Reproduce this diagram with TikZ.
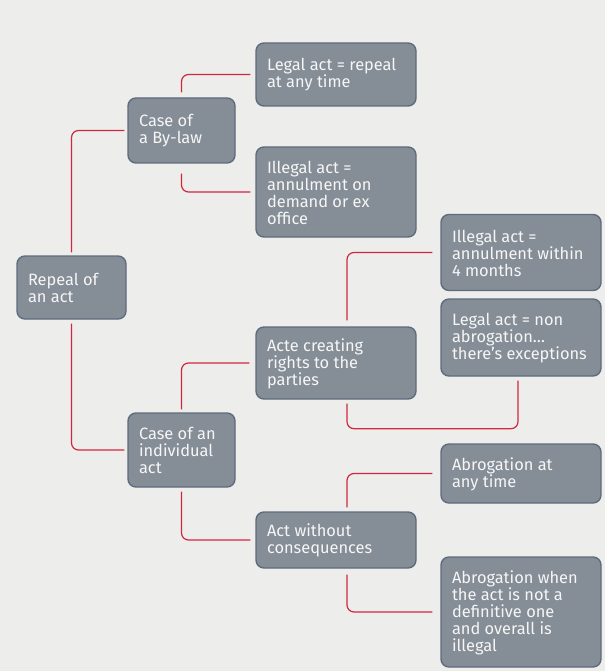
\documentclass[tikz,border=0pt]{standalone}
\usepackage{fontspec}
\setmainfont{Fira Sans}
\definecolor{bg}{RGB}{237,237,235}
\definecolor{boxfill}{RGB}{133,141,151}
\definecolor{boxedge}{RGB}{95,108,126}
\definecolor{linkred}{RGB}{208,40,64}
\definecolor{boxtext}{RGB}{246,246,246}
\tikzset{
  box/.style={draw=boxedge, fill=boxfill, line width=1.4pt, rounded corners=8pt,
    inner sep=0pt, anchor=center},
  boxlabel/.style={text=boxtext, align=left, inner sep=0pt, anchor=west,
    font=\fontsize{16.4}{17}\selectfont},
  link/.style={draw=linkred, line width=1.2pt, rounded corners=7pt},
}
\newcommand{\bx}[6]{% name, cx, cy, width, height, text
  \node[box, minimum width=#4pt, minimum height=#5pt] (#1) at (#2,#3) {};
  \node[boxlabel] (#1-t) at ([xshift=11.5pt,yshift=-0.5pt]#1.west) {#6};}
\begin{document}
\begin{tikzpicture}[x=1pt,y=-1pt]
\fill[bg] (0,0) rectangle (605,671);
\useasboundingbox (0,0) rectangle (605,671);

\bx{r}{71.5}{287.5}{109}{63}{Repeal of\\an act}
\bx{b}{181.5}{130.5}{107}{65}{Case of\\a By-law}
\bx{l1}{336}{74.5}{160}{63}{Legal act = repeal\\at any time}
\bx{il}{336}{192}{160}{90}{Illegal act =\\annulment on\\demand or ex\\office}
\bx{ind}{181.5}{450}{107}{74}{Case of an\\individual\\act}
\bx{acte}{336}{363}{160}{72}{Acte creating\\rights to the\\parties}
\bx{i4}{521}{252.5}{160}{76}{Illegal act =\\annulment within\\4 months}
\bx{ln}{521}{337.5}{160}{77}{Legal act = non\\abrogation…\\there’s exceptions}
\bx{aw}{336}{540}{160}{56}{Act without\\consequences}
\bx{ab1}{521}{473.5}{160}{59}{Abrogation at\\any time}
\bx{ab2}{521}{612}{160}{110}{Abrogation when\\the act is not a\\definitive one\\and overall is\\illegal}

% repeal of an act
\draw[link] ([yshift=3pt]r.north) |- ([xshift=-3pt]b.west);
\draw[link] ([yshift=-4pt]r.south) |- ([xshift=-3pt]ind.west);
% by-law branches
\draw[link] ([yshift=5pt]b.north) |- ([xshift=-5pt]l1.west);
\draw[link] ([yshift=-10pt]b.south) |- ([xshift=-5pt]il.west);
% individual act branches
\draw[link] ([yshift=3pt]ind.north) |- ([xshift=-6pt]acte.west);
\draw[link] ([yshift=-4pt]ind.south) |- ([xshift=-5pt]aw.west);
% acte creating rights
\draw[link] ([xshift=11pt,yshift=6pt]acte.north) |- ([xshift=-8pt]i4.west);
\draw[link] ([xshift=11pt,yshift=-4pt]acte.south) -- ++(0,25) -| ([xshift=-3pt,yshift=-4pt]ln.south);
% act without consequences
\draw[link] ([xshift=11pt,yshift=4pt]aw.north) |- ([xshift=-8pt]ab1.west);
\draw[link] ([xshift=11pt,yshift=-6pt]aw.south) |- ([xshift=-8pt]ab2.west);
\end{tikzpicture}
\end{document}
